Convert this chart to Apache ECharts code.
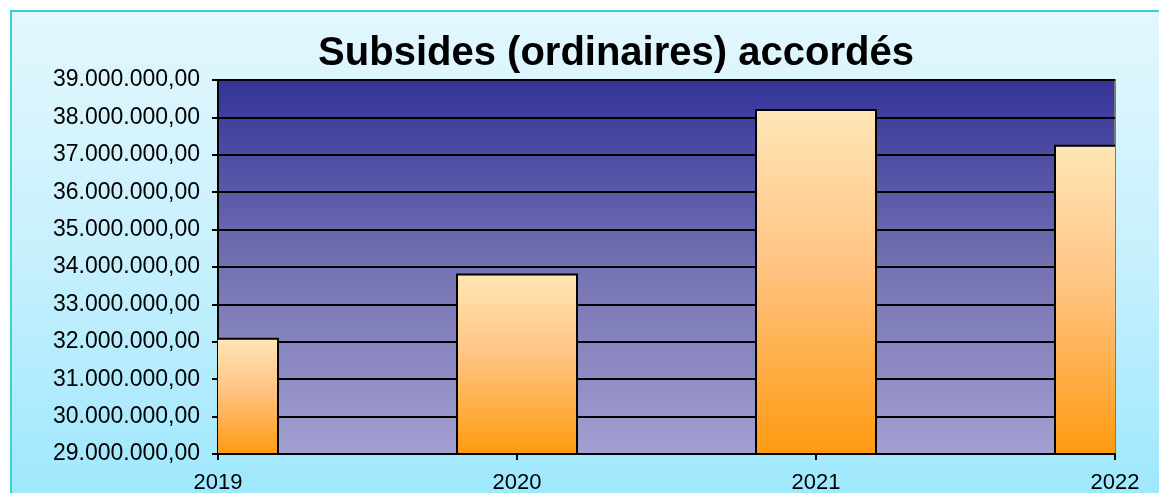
<!DOCTYPE html>
<html>
<head>
<meta charset="utf-8">
<script src="https://cdn.jsdelivr.net/npm/echarts@6/dist/echarts.min.js"></script>
<style>
html,body{margin:0;padding:0;background:#ffffff;width:1159px;height:493px;overflow:hidden;}
#frame{position:absolute;left:10px;top:10px;width:1149px;height:483px;border-top:2px solid #3ccfd0;border-left:2px solid #3ccfd0;background:linear-gradient(to bottom,#e3f7fe 0%,#c8f0fd 50%,#9fe8fd 100%);box-sizing:border-box;}
#c{position:absolute;left:0;top:0;width:1159px;height:493px;}
</style>
</head>
<body>
<div id="frame"></div>
<div id="c"></div>
<script>
const titleText = 'Subsides (ordinaires) accordés';
const categories = ['2019', '2020', '2021', '2022'];
const values = [32080000, 33800000, 38200000, 37240000];
const yMin = 29000000;
const yMax = 39000000;
const yStep = 1000000;

function fmt(v) {
  const s = Math.round(v).toString().replace(/\B(?=(\d{3})+(?!\d))/g, '.');
  return s + ',00';
}

const barData = categories.map((c, i) => [i, values[i]]);
const BAR_W = 120;
const barFill = new echarts.graphic.LinearGradient(0, 0, 0, 1, [
  {offset: 0, color: '#ffe6b6'},
  {offset: 0.45, color: '#ffc483'},
  {offset: 1, color: '#ff9a10'}
]);

const chart = echarts.init(document.getElementById('c'), null, {renderer: 'canvas'});
chart.setOption({
  backgroundColor: 'transparent',
  animation: false,
  title: {
    text: titleText,
    left: 611,
    textAlign: 'center',
    top: 29,
    textStyle: {fontFamily: 'Liberation Sans, Arial, sans-serif', fontWeight: 'bold', fontSize: 40, color: '#000'}
  },
  grid: {
    left: 218, right: 44, top: 80, bottom: 39,
    outerBoundsMode: 'none',
    containLabel: false,
    show: true,
    borderColor: '#7a7a7a',
    borderWidth: 2,
    backgroundColor: new echarts.graphic.LinearGradient(0, 0, 0, 1, [
      {offset: 0, color: '#333399'},
      {offset: 0.5, color: '#7472b2'},
      {offset: 1, color: '#a3a0d2'}
    ])
  },
  xAxis: {
    type: 'category',
    data: categories,
    boundaryGap: false,
    axisLine: {lineStyle: {color: '#000', width: 2}},
    axisTick: {show: true, length: 6, lineStyle: {color: '#000', width: 2}},
    axisLabel: {margin: 18, fontFamily: 'Liberation Sans, Arial, sans-serif', fontSize: 22, color: '#000'},
    splitLine: {show: false}
  },
  yAxis: {
    type: 'value',
    min: yMin, max: yMax, interval: yStep,
    axisLine: {show: true, lineStyle: {color: '#000', width: 2}},
    axisTick: {show: true, length: 6, lineStyle: {color: '#000', width: 2}},
    axisLabel: {margin: 18, fontFamily: 'Liberation Sans, Arial, sans-serif', fontSize: 23, color: '#000', formatter: fmt},
    splitLine: {show: true, lineStyle: {color: '#000', width: 2}}
  },
  series: [{
    type: 'custom',
    data: barData,
    encode: {x: 0, y: 1},
    clip: true,
    z: 3,
    renderItem: function (params, api) {
      const top = api.coord([api.value(0), api.value(1)]);
      const base = api.coord([api.value(0), yMin]);
      return {
        type: 'rect',
        shape: {x: top[0] - BAR_W / 2, y: top[1], width: BAR_W, height: base[1] - top[1]},
        style: {fill: barFill, stroke: '#000', lineWidth: 2}
      };
    }
  }]
});
</script>
</body>
</html>
